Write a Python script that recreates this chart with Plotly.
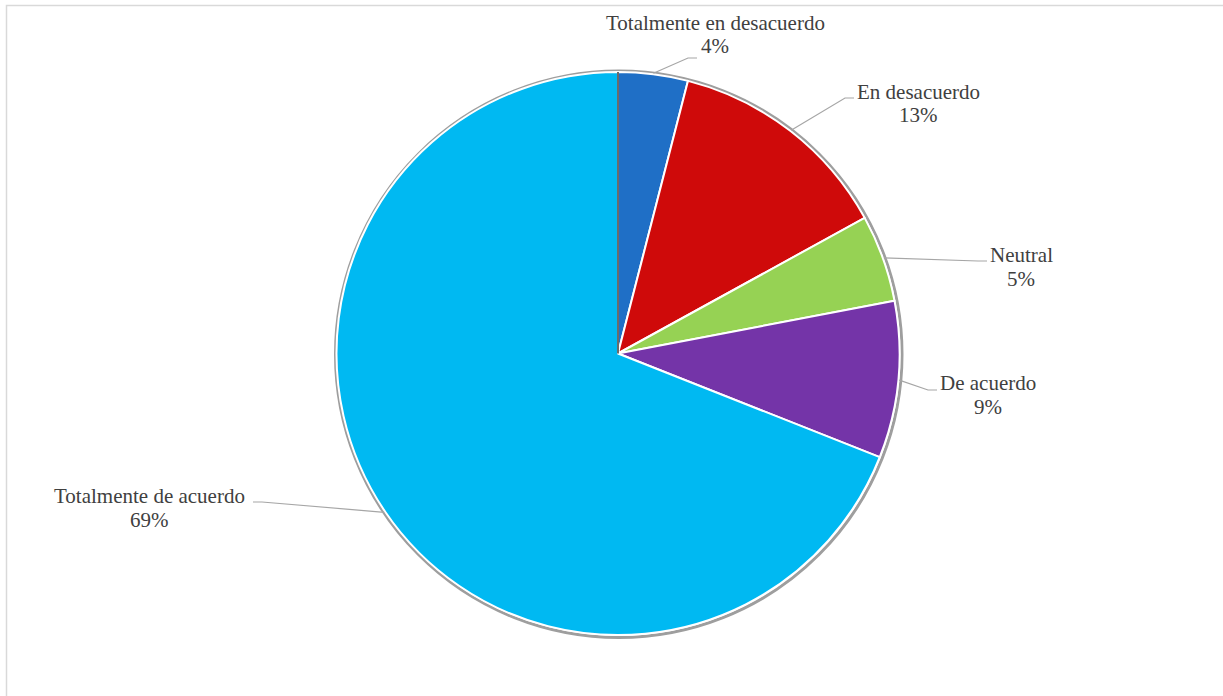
import math
import plotly.graph_objects as go

# Survey answers, clockwise from 12 o'clock
categories = [
    "Totalmente en desacuerdo",
    "En desacuerdo",
    "Neutral",
    "De acuerdo",
    "Totalmente de acuerdo",
]
percentages = [4, 13, 5, 9, 69]
slice_colors = ["#1F6FC6", "#CF0A0A", "#96D254", "#7434A8", "#00B9F2"]

# Canvas and pie geometry (pixels)
W, H = 1223, 696
CX, CY, R = 618, 353.5, 281.5

# Label placement (text centre x, baseline of first line) and leader end points
label_pos = [(715, 30), (918, 99), (1021, 262), (988, 390), (149, 503)]
leader_end = [(697, 58), (854, 98), (987, 261), (937, 390), (253, 502)]

FONT = "Times New Roman, Liberation Serif, DejaVu Serif, serif"
FS = 21
LINE_GAP = 23.5
TEXT_COLOR = "#404040"
LEADER_COLOR = "#A6A6A6"


def px(x):
    return x / W


def py(y):
    return 1 - y / H


fig = go.Figure(
    go.Pie(
        labels=categories,
        values=percentages,
        sort=False,
        direction="clockwise",
        rotation=0,
        marker=dict(colors=slice_colors, line=dict(color="#FFFFFF", width=2)),
        textinfo="none",
        hoverinfo="label+percent",
        showlegend=False,
        domain=dict(x=[px(CX - R), px(CX + R)], y=[py(CY + R), py(CY - R)]),
    )
)

shapes = []
# outer frame of the chart area
shapes.append(dict(type="rect", xref="paper", yref="paper",
                   x0=px(6.5), x1=1.02, y0=-0.02, y1=py(5.5),
                   line=dict(color="#D9D9D9", width=1.5), layer="below"))
# soft grey rim around the pie
shapes.append(dict(type="circle", xref="paper", yref="paper",
                   x0=px(CX - R - 1), x1=px(CX + R + 2.5),
                   y0=py(CY + R + 2.5), y1=py(CY - R - 1),
                   line=dict(color="#9E9E9E", width=3), layer="below"))

annotations = []
total = sum(percentages)
cum = 0
for i, (cat, val) in enumerate(zip(categories, percentages)):
    mid = (cum + val / 2) / total * 2 * math.pi
    cum += val
    sx = CX + (R + 1) * math.sin(mid)
    sy = CY - (R + 1) * math.cos(mid)
    ex, ey = leader_end[i]
    side = 1 if ex > CX else -1
    bx = ex - side * 9
    path = f"M {px(sx)},{py(sy)} L {px(bx)},{py(ey)} L {px(ex)},{py(ey)}"
    shapes.append(dict(type="path", xref="paper", yref="paper", path=path,
                       line=dict(color=LEADER_COLOR, width=1.2)))

    tx, base = label_pos[i]
    pct = round(val / total * 100)
    for j, txt in enumerate([cat, f"{pct}%"]):
        yc = base + j * LINE_GAP - 7
        annotations.append(dict(
            x=px(tx), y=py(yc), xref="paper", yref="paper",
            text=txt, showarrow=False, xanchor="center", yanchor="middle",
            font=dict(family=FONT, size=FS, color=TEXT_COLOR),
        ))

# dark edge where the first slice begins (12 o'clock)
shapes.append(dict(type="line", xref="paper", yref="paper",
                   x0=px(CX), x1=px(CX), y0=py(CY), y1=py(CY - R),
                   line=dict(color="#3A3A3A", width=1.5)))

fig.update_layout(
    width=W, height=H,
    margin=dict(l=0, r=0, t=0, b=0),
    paper_bgcolor="#FFFFFF",
    plot_bgcolor="#FFFFFF",
    font=dict(family=FONT),
    shapes=shapes,
    annotations=annotations,
)

fig.write_html("out.html")
